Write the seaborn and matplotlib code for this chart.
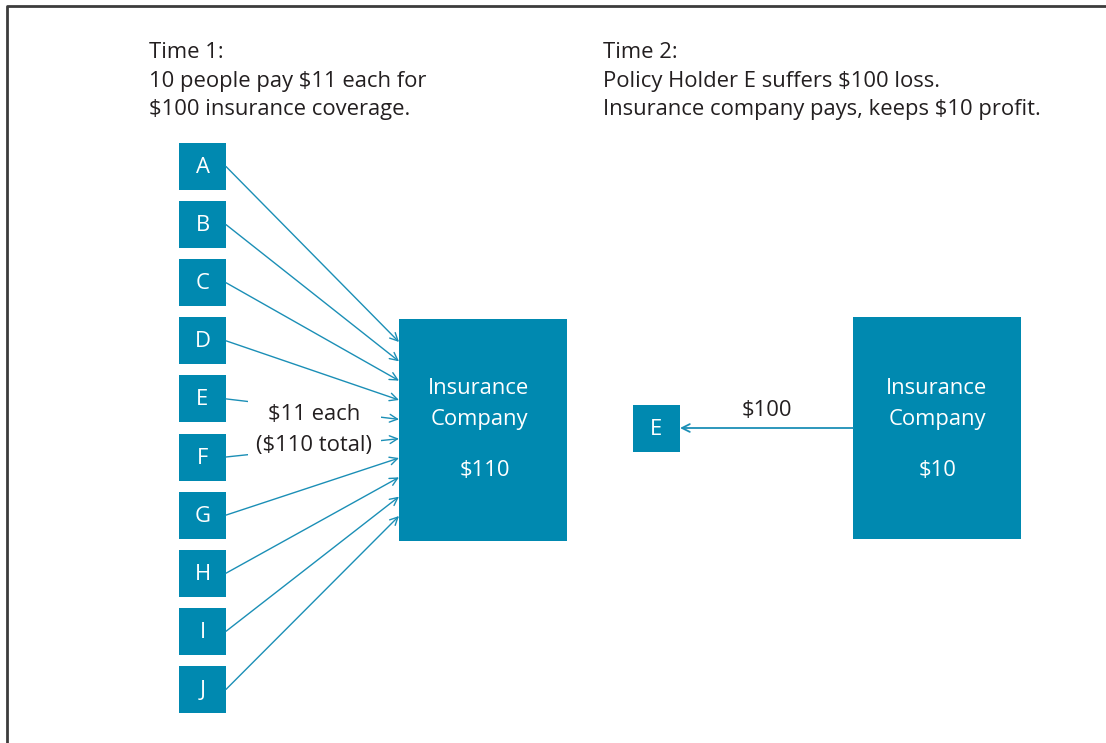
import numpy as np
import seaborn as sns
import matplotlib.pyplot as plt
from matplotlib.patches import Rectangle

# data
people = ["A", "B", "C", "D", "E", "F", "G", "H", "I", "J"]
premium_each = 11
premium_total = 110
coverage = 100
loss_holder = "E"
loss_amount = 100
profit = premium_total - loss_amount

title_1 = ["Time 1:", f"{len(people)} people pay ${premium_each} each for",
           f"${coverage} insurance coverage."]
title_2 = ["Time 2:", f"Policy Holder {loss_holder} suffers ${loss_amount} loss.",
           f"Insurance company pays, keeps ${profit} profit."]

# style
sns.set_theme(style="white")
plt.rcParams["font.family"] = ["Open Sans", "DejaVu Sans"]
BLUE = "#0089b0"
LINE = "#1b8fb6"
TEXT = "#231f20"
FS = 15.8

fig = plt.figure(figsize=(11.06, 7.43), dpi=100)
ax = fig.add_axes([0, 0, 1, 1])
ax.set_xlim(0, 1106)
ax.set_ylim(743, 0)
ax.axis("off")

# frame (left and top edges only visible)
ax.plot([7, 7, 1106], [743, 6, 6], color="#3c3c3c", lw=2, solid_capstyle="butt")

# headings
for i, line in enumerate(title_1):
    ax.text(149, 52 + 29 * i, line, fontsize=FS, color=TEXT, va="center", ha="left")
for i, line in enumerate(title_2):
    ax.text(603, 52 + 29 * i, line, fontsize=FS, color=TEXT, va="center", ha="left")

# people boxes and arrows
box = 47
px = 179
py0, pstep = 143, 58.1
comp1 = (399, 319, 168, 222)
targets = np.linspace(342, 516, len(people))
for i, p in enumerate(people):
    y = py0 + pstep * i
    ax.add_patch(Rectangle((px, y), box, box, color=BLUE, lw=0))
    ax.text(px + box / 2, y + box / 2 + 1, p, color="white", fontsize=FS,
            ha="center", va="center")
    ax.annotate("", xy=(comp1[0], targets[i]), xytext=(px + box, y + box / 2),
                arrowprops=dict(arrowstyle="->", color=LINE, lw=1,
                                shrinkA=0, shrinkB=0, mutation_scale=14))

# label sits in a white gap that cuts the E and F lines
ax.add_patch(Rectangle((248, 398), 133, 62, facecolor="white", lw=0, zorder=3))
for j, line in enumerate([f"${premium_each} each", f"(${premium_total} total)"]):
    ax.text(314, 415 + 30 * j, line, fontsize=FS, color=TEXT, ha="center",
            va="center", zorder=4)

# company at time 1
ax.add_patch(Rectangle(comp1[:2], comp1[2], comp1[3], color=BLUE, lw=0))
for j, line in enumerate(["Insurance", "Company"]):
    ax.text(479, 389 + 30 * j, line, color="white", fontsize=FS,
            ha="center", va="center")
ax.text(485, 471, f"${premium_total}", color="white", fontsize=FS,
        ha="center", va="center")

# time 2
comp2 = (853, 317, 168, 222)
ax.add_patch(Rectangle(comp2[:2], comp2[2], comp2[3], color=BLUE, lw=0))
for j, line in enumerate(["Insurance", "Company"]):
    ax.text(937, 389 + 30 * j, line, color="white", fontsize=FS,
            ha="center", va="center")
ax.text(938, 471, f"${profit}", color="white", fontsize=FS,
        ha="center", va="center")

ax.add_patch(Rectangle((633, 405), box, box, color=BLUE, lw=0))
ax.text(633 + box / 2, 405 + box / 2 + 1, loss_holder, color="white", fontsize=FS,
        ha="center", va="center")
ax.annotate("", xy=(680, 428), xytext=(853, 428),
            arrowprops=dict(arrowstyle="->", color=LINE, lw=1.3,
                            shrinkA=0, shrinkB=0, mutation_scale=14))
ax.text(767, 410, f"${loss_amount}", fontsize=FS, color=TEXT,
        ha="center", va="center")

fig.savefig("out.png", dpi=100)
